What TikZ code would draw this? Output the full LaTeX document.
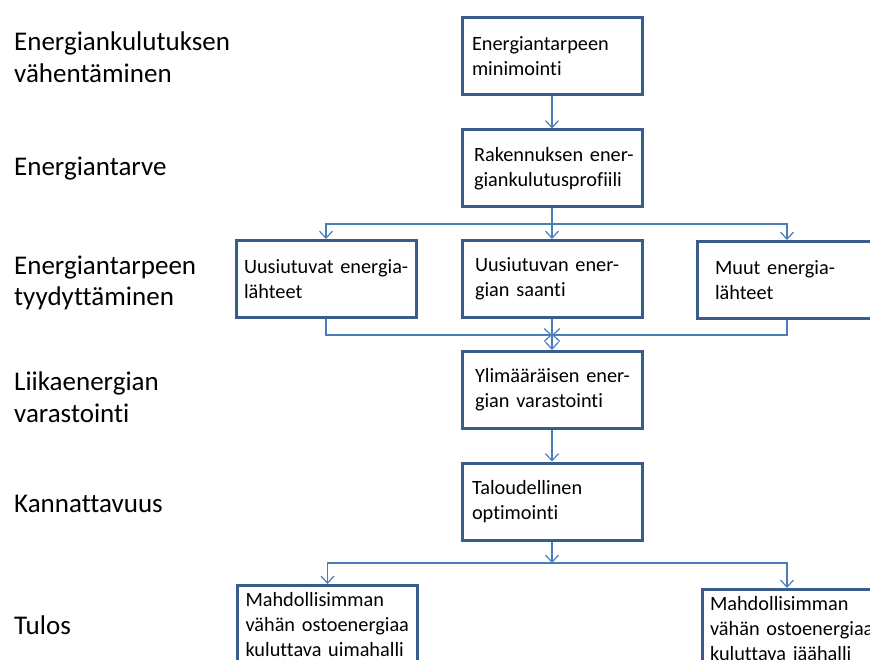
\documentclass[tikz,border=0pt]{standalone}
\usepackage{fontspec}
\setmainfont{Carlito}[Ligatures=NoCommon]
\usepackage{tikz}
\usetikzlibrary{arrows.meta}
\definecolor{boxline}{RGB}{56,93,138}
\definecolor{conline}{RGB}{74,126,187}
\newcommand\boxfont{\fontsize{20.3}{25}\selectfont\hyphenpenalty=10000\relax\exhyphenpenalty=10000\relax}
\tikzset{
  box/.style ={draw=boxline, line width=3pt, fill=white, rectangle, align=left,
               text width=164pt, inner xsep=8pt, minimum height=77pt, font=\boxfont},
  boxw/.style={box, anchor=north, minimum height=0pt, inner ysep=7pt},
  lbl/.style ={anchor=west, align=left, inner sep=0pt, font=\fontsize{27}{31.5}\selectfont},
  con/.style ={draw=conline, line width=1.4pt, -{Straight Barb[length=7pt,width=13pt,line width=1.2pt]}},
}
\begin{document}
\begin{tikzpicture}[x=1pt,y=-1pt]
  \useasboundingbox (0,0) rectangle (870,660);
  \clip (0,0) rectangle (870,660);
  \fill[white] (0,0) rectangle (870,660);
  \node[lbl] (tasoa) at (14,57) {Energiankulutuksen\\vähentäminen};
  \node[lbl] (tasob) at (14,169) {Energiantarve};
  \node[lbl] (tasoc) at (14,283) {Energiantarpeen\\tyydyttäminen};
  \node[lbl] (tasod) at (14,397) {Liikaenergian\\varastointi};
  \node[lbl] (tasoe) at (14,504) {Kannattavuus};
  \node[lbl] (tasof) at (14,625) {Tulos};
  \node[box] (minim) at (552,56.5) {\hspace*{2pt}Energiantarpeen\\\hspace*{2pt}minimointi};
  \node[box] (profiili) at (552,168.5) {\hspace*{4pt}Rakennuksen~ener-\\\hspace*{4pt}giankulutusprofiili};
  \node[box] (uusiut) at (326,279) {Uusiutuvat~energia-\\lähteet};
  \node[box] (saanti) at (552,279) {\hspace*{5pt}Uusiutuvan~ener-\\\hspace*{5pt}gian~saanti};
  \node[box] (muut) at (787,280) {\hspace*{10pt}Muut~energia-\\\hspace*{10pt}lähteet};
  \node[box] (varasto) at (552,390) {\hspace*{5pt}Ylimääräisen~ener-\\\hspace*{5pt}gian~varastointi};
  \node[box] (optimi) at (552,501.5) {\hspace*{2pt}Taloudellinen\\\hspace*{2pt}optimointi};
  \node[boxw] (uimahalli) at (327.5,584) {Mahdollisimman\\vähän~ostoenergiaa\\kuluttava~uimahalli};
  \node[boxw,text width=174pt] (jaahalli) at (797,588) {Mahdollisimman\\vähän~ostoenergiaa\\kuluttava~jäähalli};
  \coordinate (jako) at (552,224);
  \coordinate (kokoo) at (552,335);
  \coordinate (jakob) at (552,563);
  \draw[con] (minim) -- (profiili);
  \draw[con] (profiili) -- (saanti);
  \draw[con] (jako) -| (uusiut);
  \draw[con] (jako) -| (muut);
  \draw[con] (uusiut) |- (kokoo);
  \draw[con] (muut) |- (kokoo);
  \draw[con] (saanti) -- (varasto);
  \draw[con] (varasto) -- (optimi);
  \draw[con] (optimi) -- (jakob);
  \draw[con] (jakob) -| (uimahalli.north);
  \draw[con] (jakob) -| ([xshift=-10pt]jaahalli.north);
\end{tikzpicture}
\end{document}
